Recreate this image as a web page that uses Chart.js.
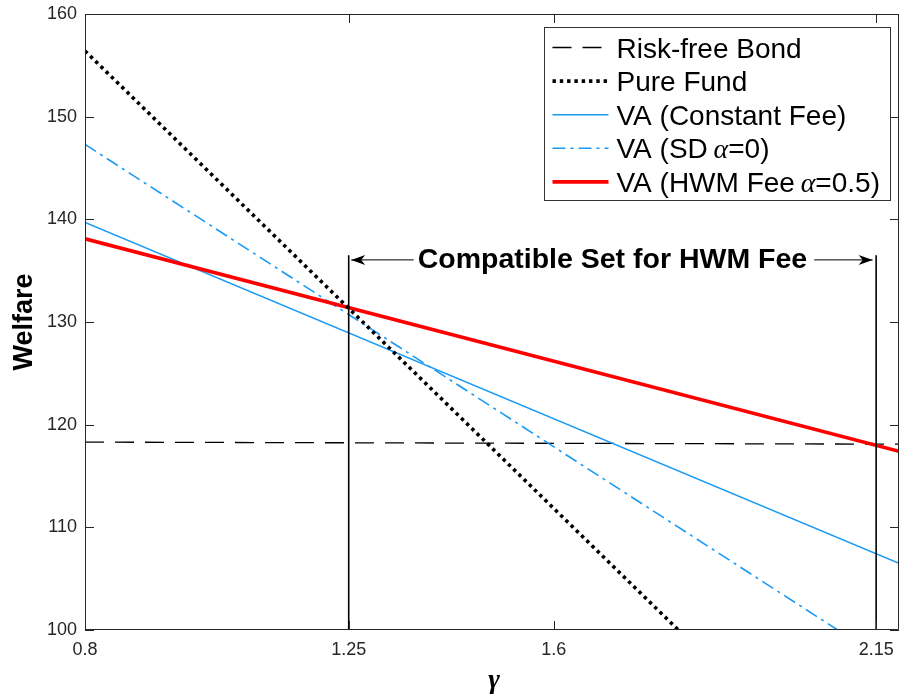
<!DOCTYPE html>
<html>
<head>
<meta charset="utf-8">
<script src="https://cdn.jsdelivr.net/npm/chart.js@4.4.0/dist/chart.umd.min.js"></script>
<style>
  html, body { margin: 0; padding: 0; background: #ffffff; }
  #wrap { width: 899px; height: 696px; }
</style>
</head>
<body>
<div id="wrap"><canvas id="c" width="899" height="696"></canvas></div>
<script>
// ---- data ----
const gammaRange     = [0.8, 2.189];          // x extent of the straight lines
const riskFreeBond   = [118.3, 118.1];
const vaConstantFee  = [139.7, 106.5];
const vaHwmFee       = [138.1, 117.4];
const pureFundGamma  = [0.8, 1.8125];
const pureFund       = [156.4, 100];
const vaSdGamma      = [0.8, 2.0845];
const vaSd           = [147.3, 100];
const xTickValues    = [0.8, 1.25, 1.6, 2.15];
const yTickValues    = [100, 110, 120, 130, 140, 150, 160];
const compatBounds   = [1.25, 2.15];
const compatTop      = 136.5;
const compatArrowY   = 136.05;
const compatLabel    = 'Compatible Set for HWM Fee';
const seriesLabels   = ['Risk-free Bond', 'Pure Fund', 'VA (Constant Fee)', 'VA (SD α=0)', 'VA (HWM Fee α=0.5)'];

const BLUE = '#1a9af5';
const AXIS = '#262626';
const SANS = "'Liberation Sans', Arial, Helvetica, sans-serif";
const SERIF = "'Liberation Serif', 'Times New Roman', serif";

function pts(xs, ys) { return xs.map((x, i) => ({ x: x, y: ys[i] })); }

const datasets = [
  { label: seriesLabels[0], data: pts(gammaRange, riskFreeBond), borderColor: '#000000', borderWidth: 1.3, borderDash: [19, 11], order: 5, legend: true },
  { label: seriesLabels[1], data: pts(pureFundGamma, pureFund), borderColor: '#000000', borderWidth: 3.6, borderDash: [3.4, 3.9], order: 1, legend: true },
  { label: seriesLabels[2], data: pts(gammaRange, vaConstantFee), borderColor: BLUE, borderWidth: 1.6, borderDash: [], order: 4, legend: true },
  { label: seriesLabels[3], data: pts(vaSdGamma, vaSd), borderColor: BLUE, borderWidth: 1.6, borderDash: [13, 5, 3, 5], order: 3, legend: true },
  { label: seriesLabels[4], data: pts(gammaRange, vaHwmFee), borderColor: '#ff0000', borderWidth: 3.6, borderDash: [], order: 2, legend: true },
  { label: 'lo', data: pts([compatBounds[0], compatBounds[0]], [100, compatTop]), borderColor: '#000000', borderWidth: 1.6, borderDash: [], order: 0, legend: false },
  { label: 'hi', data: pts([compatBounds[1], compatBounds[1]], [100, compatTop]), borderColor: '#000000', borderWidth: 1.6, borderDash: [], order: 0, legend: false }
];
datasets.forEach(d => { d.pointRadius = 0; d.fill = false; d.tension = 0; d.borderCapStyle = 'butt'; });

function drawArrow(ctx, x1, x2, y) {
  ctx.beginPath();
  ctx.moveTo(x1, y); ctx.lineTo(x2, y);
  ctx.stroke();
  const dir = x2 > x1 ? 1 : -1;
  ctx.beginPath();
  ctx.moveTo(x2, y);
  ctx.lineTo(x2 - dir * 14, y - 5);
  ctx.lineTo(x2 - dir * 10, y);
  ctx.lineTo(x2 - dir * 14, y + 5);
  ctx.closePath();
  ctx.fill();
}

const overlay = {
  id: 'overlay',
  afterDraw(chart) {
    const ctx = chart.ctx;
    const a = chart.chartArea;
    const xs = chart.scales.x, ys = chart.scales.y;
    ctx.save();

    // box and inward ticks
    ctx.strokeStyle = AXIS;
    ctx.lineWidth = 1;
    ctx.beginPath();
    ctx.rect(Math.round(a.left) + 0.5, Math.round(a.top) + 0.5, Math.round(a.right - a.left) - 1, Math.round(a.bottom - a.top) - 1);
    ctx.stroke();
    ctx.beginPath();
    xTickValues.forEach(t => {
      const px = Math.round(xs.getPixelForValue(t)) + 0.5;
      ctx.moveTo(px, a.bottom); ctx.lineTo(px, a.bottom - 9);
      ctx.moveTo(px, a.top); ctx.lineTo(px, a.top + 9);
    });
    yTickValues.forEach(t => {
      const py = Math.round(ys.getPixelForValue(t)) + 0.5;
      ctx.moveTo(a.left, py); ctx.lineTo(a.left + 9, py);
      ctx.moveTo(a.right, py); ctx.lineTo(a.right - 9, py);
    });
    ctx.stroke();

    // compatible set annotation
    const xl = xs.getPixelForValue(compatBounds[0]);
    const xr = xs.getPixelForValue(compatBounds[1]);
    const ay = ys.getPixelForValue(compatArrowY);
    ctx.font = 'bold 28.5px ' + SANS;
    const tw = ctx.measureText(compatLabel).width;
    const cx = (xl + xr) / 2;
    ctx.fillStyle = '#000000';
    ctx.textAlign = 'center';
    ctx.textBaseline = 'alphabetic';
    ctx.fillText(compatLabel, cx, ay + 8);
    ctx.strokeStyle = '#000000';
    ctx.lineWidth = 1;
    drawArrow(ctx, cx - tw / 2 - 4, xl + 2.5, ay);
    drawArrow(ctx, cx + tw / 2 + 7, xr - 3.5, ay);

    // legend
    const bw = 346, bh = 173;
    const bx = Math.round(a.right - 9 - bw) + 0.5, by = Math.round(a.top + 13) + 0.5;
    ctx.fillStyle = '#ffffff';
    ctx.fillRect(bx, by, bw, bh);
    ctx.strokeStyle = '#333333';
    ctx.lineWidth = 1;
    ctx.strokeRect(bx, by, bw, bh);
    const items = chart.data.datasets.filter(d => d.legend);
    items.forEach((d, i) => {
      const base = by + 30 + i * 33.6;
      const ly = base - 10;
      ctx.save();
      ctx.strokeStyle = d.borderColor;
      ctx.lineWidth = d.borderWidth;
      ctx.setLineDash(d.borderDash || []);
      ctx.beginPath();
      ctx.moveTo(bx + 8, ly); ctx.lineTo(bx + 64, ly);
      ctx.stroke();
      ctx.restore();
      ctx.fillStyle = '#000000';
      ctx.textAlign = 'left';
      ctx.textBaseline = 'alphabetic';
      let tx = bx + 72;
      const parts = d.label.split('α');
      ctx.font = '28px ' + SANS;
      ctx.fillText(parts[0], tx, base);
      tx += ctx.measureText(parts[0]).width;
      if (parts.length > 1) {
        tx -= 2;
        ctx.font = 'italic 28px ' + SERIF;
        ctx.fillText('α', tx, base);
        tx += ctx.measureText('α').width;
        ctx.font = '28px ' + SANS;
        ctx.fillText(parts[1], tx, base);
      }
    });

    // axis titles
    ctx.fillStyle = '#000000';
    ctx.textAlign = 'center';
    ctx.textBaseline = 'alphabetic';
    ctx.font = 'bold italic 28px ' + SERIF;
    ctx.fillText('γ', (a.left + a.right) / 2 + 2, 688);
    ctx.save();
    ctx.translate(32, (a.top + a.bottom) / 2);
    ctx.rotate(-Math.PI / 2);
    ctx.font = 'bold 27px ' + SANS;
    ctx.fillText('Welfare', 0, 0);
    ctx.restore();

    ctx.restore();
  }
};

new Chart(document.getElementById('c'), {
  type: 'line',
  data: { datasets: datasets },
  options: {
    responsive: false,
    animation: false,
    devicePixelRatio: 1,
    layout: { padding: { top: 14, right: 0, left: 0, bottom: 0 } },
    plugins: { legend: { display: false }, tooltip: { enabled: false } },
    scales: {
      x: {
        type: 'linear',
        min: gammaRange[0],
        max: gammaRange[1],
        afterBuildTicks: s => { s.ticks = xTickValues.map(v => ({ value: v })); },
        afterFit: s => { s.height = 66; s.paddingLeft = 0; s.paddingRight = 0; },
        grid: { display: false, drawTicks: false },
        border: { display: false },
        ticks: { color: AXIS, font: { family: SANS, size: 18 }, padding: 9, maxRotation: 0, autoSkip: false,
                 callback: v => String(v) }
      },
      y: {
        type: 'linear',
        min: 100,
        max: 160,
        afterBuildTicks: s => { s.ticks = yTickValues.map(v => ({ value: v })); },
        afterFit: s => { s.width = 85; s.paddingTop = 0; s.paddingBottom = 0; },
        grid: { display: false, drawTicks: false },
        border: { display: false },
        ticks: { color: AXIS, font: { family: SANS, size: 18 }, padding: 8, autoSkip: false,
                 callback: v => String(v) }
      }
    }
  },
  plugins: [overlay]
});
</script>
</body>
</html>
